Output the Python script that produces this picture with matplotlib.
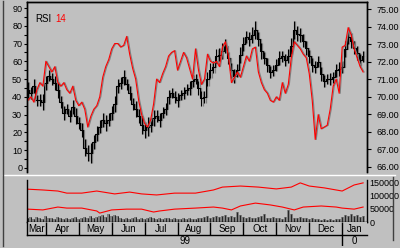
import matplotlib
matplotlib.use('Agg')
import matplotlib.pyplot as plt
from matplotlib.lines import Line2D
from matplotlib.ticker import MultipleLocator, FormatStrFormatter

plt.rcParams['font.family'] = ['Liberation Sans', 'DejaVu Sans']
plt.rcParams['font.size'] = 6.5

bg = '#c0c0c0'
shadow = '#808080'

# RSI 14 (left scale), one value per 3 trading days
rsi = [38, 40, 37, 44, 48, 46, 60, 57, 54, 57,
       48, 46, 48, 44, 42, 46, 38, 35, 37, 33,
       23, 29, 33, 35, 40, 51, 57, 61, 67, 70,
       70, 68, 69, 74, 64, 56, 50, 38, 30, 25,
       23, 27, 36, 50, 48, 53, 57, 63, 65, 66,
       55, 60, 65, 62, 56, 50, 67, 55, 47, 50,
       64, 60, 59, 60, 57, 68, 71, 63, 48, 51,
       54, 51, 57, 63, 60, 67, 68, 54, 48, 44,
       42, 38, 37, 40, 38, 48, 42, 47, 62, 71,
       69, 67, 64, 62, 53, 38, 16, 30, 22, 23,
       24, 33, 46, 50, 42, 68, 69, 79, 75, 67,
       62, 57, 54]

# price (right scale): mid of each bar and its high-low range
price_mid = [70.4, 70.2, 70.6, 69.8, 69.8, 69.7, 70.8, 71.2, 71.0, 70.8,
             70.4, 69.7, 69.1, 69.3, 68.9, 69.4, 68.9, 68.5, 68.1, 67.1,
             66.8, 66.8, 67.4, 67.9, 68.3, 68.7, 68.5, 68.7, 69.1, 69.6,
             70.6, 70.8, 71.1, 70.7, 70.2, 69.6, 69.3, 68.9, 68.4, 68.1,
             68.3, 68.4, 68.8, 68.9, 68.7, 69.1, 69.3, 70.0, 70.2, 70.0,
             69.8, 70.1, 70.2, 70.4, 70.5, 70.9, 71.0, 70.5, 69.9, 70.0,
             71.0, 71.5, 71.7, 72.3, 72.4, 72.6, 72.9, 72.2, 71.5, 71.2,
             71.5, 72.4, 73.0, 73.4, 73.3, 73.5, 73.8, 73.3, 72.6, 72.2,
             71.8, 71.4, 71.5, 71.8, 72.2, 72.3, 72.1, 72.3, 72.9, 73.8,
             73.6, 73.5, 73.2, 72.8, 72.3, 71.8, 71.7, 72.0, 71.3, 70.9,
             71.0, 71.0, 71.1, 71.5, 71.6, 71.7, 72.7, 73.4, 73.2, 72.8,
             72.5, 72.1, 72.3]
price_rng = [0.9, 0.7, 0.8, 0.6, 0.7, 0.9, 0.8, 0.6, 0.7, 0.8,
             0.9, 0.7, 0.8, 0.6, 0.7, 0.8, 0.9, 0.7, 0.8, 1.0,
             0.9, 1.1, 0.8, 0.9, 0.7, 0.8, 0.9, 0.7, 0.8, 0.9,
             0.8, 0.7, 0.9, 0.6, 0.8, 0.7, 0.9, 0.8, 1.0, 0.9,
             1.1, 0.8, 0.9, 0.7, 0.8, 0.6, 0.7, 0.8, 0.6, 0.7,
             0.8, 0.6, 0.7, 0.6, 0.8, 0.7, 0.6, 0.8, 0.9, 0.7,
             0.8, 0.9, 0.7, 0.8, 0.7, 0.9, 0.8, 0.7, 0.9, 0.8,
             0.7, 0.9, 0.8, 0.7, 0.8, 0.9, 1.0, 0.8, 0.9, 0.7,
             0.8, 0.7, 0.6, 0.7, 0.8, 0.6, 0.7, 0.8, 0.9, 1.0,
             0.9, 0.8, 0.7, 0.8, 0.7, 0.8, 0.7, 0.6, 0.8, 0.7,
             0.6, 0.7, 0.6, 0.7, 0.8, 0.7, 0.9, 0.8, 0.9, 0.7,
             0.8, 0.7, 0.6]

# volume in thousands
volume = [14, 18, 12, 20, 16, 13, 22, 15, 17, 12,
          19, 14, 13, 16, 11, 14, 18, 12, 15, 20,
          17, 24, 14, 19, 22, 28, 19, 30, 24, 26,
          21, 15, 12, 16, 13, 14, 18, 12, 15, 13,
          16, 20, 14, 12, 15, 13, 16, 14, 12, 15,
          13, 11, 14, 12, 15, 13, 12, 14, 16, 18,
          22, 17, 20, 24, 18, 21, 25, 19, 23, 20,
          38, 26, 18, 16, 20, 17, 15, 18, 22, 30,
          17, 15, 19, 14, 16, 13, 18, 45, 30, 17,
          15, 18, 14, 16, 13, 15, 12, 11, 9, 10,
          8, 11, 9, 12, 10, 20, 28, 24, 30, 22,
          26, 20, 24]

# volume moving averages (thousands)
slow_days = [0, 5, 10, 13, 18, 23, 29, 34, 38, 43, 49, 56, 62, 65, 71, 77,
             83, 88, 91, 94, 99, 105, 109, 112]
slow_ma = [125, 122, 118, 110, 110, 118, 107, 114, 107, 103, 110, 110, 122,
           133, 137, 133, 126, 133, 149, 137, 130, 118, 141, 149]
fast_days = [0, 5, 10, 13, 18, 23, 24, 28, 33, 38, 42, 44, 49, 56, 62, 65,
             68, 71, 76, 81, 85, 89, 92, 98, 103, 105, 109, 112]
fast_ma = [49, 46, 57, 53, 53, 42, 34, 46, 49, 49, 38, 42, 49, 53, 57, 53,
           46, 61, 72, 65, 57, 46, 57, 61, 57, 53, 49, 57]

months = ['Mar', 'Apr', 'May', 'Jun', 'Jul', 'Aug', 'Sep', 'Oct', 'Nov',
          'Dec', 'Jan']
month_starts = [6, 17, 28, 39, 50, 61, 72, 83, 94, 105]
years = ['99', '0']
year_starts = [105]

W, H = 400, 248
def box(x0, y0, x1, y1):
    return [x0 / W, 1 - y1 / H, (x1 - x0) / W, (y1 - y0) / H]

days = list(range(len(price_mid)))
xlim = (-0.3, 113.3)

fig = plt.figure(figsize=(4, 2.48), dpi=100, facecolor=bg)

# ---- price + RSI panel
ax = fig.add_axes(box(27, 2, 367, 172))
ax.set_facecolor(bg)
ax.set_xlim(*xlim)
ax.set_ylim(65.71, 75.40)
hi = [m + r / 2 for m, r in zip(price_mid, price_rng)]
lo = [m - r / 2 for m, r in zip(price_mid, price_rng)]
sx = [d + 0.35 for d in days]
ax.vlines(sx, lo, hi, color=shadow, lw=0.9)
ax.plot(sx, price_mid, color=shadow, lw=0.9, drawstyle='steps-mid')
ax.vlines(days, lo, hi, color='black', lw=0.8)
ax.plot(days, price_mid, color='black', lw=0.8, drawstyle='steps-mid')
ax.set_xticks([])

ax2 = ax.twinx()
ax2.set_ylim(-2.3, 93.4)
ax2.plot(sx, rsi, color=shadow, lw=0.8)
ax2.plot(days, rsi, color='#ff0000', lw=0.8)

# twinx moves the host ticks left, so set sides afterwards
ax.yaxis.tick_right()
ax.yaxis.set_label_position('right')
ax.yaxis.set_major_locator(MultipleLocator(1))
ax.yaxis.set_major_formatter(FormatStrFormatter('%.2f'))
ax.tick_params(axis='y', length=3, width=0.8, pad=4)
ax2.yaxis.tick_left()
ax2.set_yticks(range(0, 91, 10))
ax2.yaxis.set_minor_locator(MultipleLocator(5))
ax2.tick_params(axis='y', which='both', length=2, width=0.8, pad=1.5)
for a in (ax, ax2):
    a.spines['bottom'].set_visible(False)
    for s in ['left', 'right', 'top']:
        a.spines[s].set_linewidth(1)

ax2.text(0.025, 0.9, 'RSI', transform=ax2.transAxes, fontsize=7,
         color='black', va='center')
ax2.text(0.082, 0.9, '14', transform=ax2.transAxes, fontsize=7,
         color='#ff0000', va='center')

# ---- volume panel
axv = fig.add_axes(box(27, 180, 367, 222))
axv.set_facecolor(bg)
axv.set_xlim(*xlim)
axv.set_ylim(0, 160000)
axv.bar(days, [v * 1000 for v in volume], width=1.0, color=shadow)
axv.vlines(days, 0, [v * 1000 for v in volume], color='black', lw=0.5)
axv.plot(slow_days, [v * 1000 for v in slow_ma], color='#ff0000', lw=0.8)
axv.plot(fast_days, [v * 1000 for v in fast_ma], color='#ff0000', lw=0.8)
axv.yaxis.tick_right()
axv.set_yticks([0, 50000, 100000, 150000])
axv.yaxis.set_major_formatter(FormatStrFormatter('%d'))
axv.tick_params(axis='y', length=0, pad=2)
axv.set_xticks([])
axv.spines['top'].set_visible(False)
for s in ['left', 'right', 'bottom']:
    axv.spines[s].set_linewidth(1)

# ---- month row
axm = fig.add_axes(box(27, 222, 367, 235))
axm.set_facecolor(bg)
axm.set_xlim(*xlim)
axm.set_ylim(0, 1)
axm.vlines(month_starts, 0, 1, color='black', lw=1)
edges = [xlim[0]] + month_starts + [xlim[1]]
for i, m in enumerate(months):
    axm.text((edges[i] + edges[i + 1]) / 2, 0.45, m, ha='center',
             va='center', fontsize=7)
axm.set_xticks([])
axm.set_yticks([])
for s in ['top', 'right']:
    axm.spines[s].set_visible(False)
axm.spines['left'].set_linewidth(1)
axm.spines['bottom'].set_linewidth(1)

# ---- year row
axy = fig.add_axes(box(27, 235, 367, 246))
axy.set_xlim(*xlim)
axy.set_ylim(0, 1)
yedges = [xlim[0]] + year_starts + [xlim[1]]
for i, y in enumerate(years):
    axy.text((yedges[i] + yedges[i + 1]) / 2, 0.5, y, ha='center',
             va='center', fontsize=7)
axy.axis('off')
axy.vlines(year_starts, 0, 1, color='black', lw=1)

# frame lines
fig.add_artist(Line2D([3 / W, 395 / W], [1 - 175 / H, 1 - 175 / H],
                      color='white', lw=1))
fig.add_artist(Line2D([3 / W, 3 / W], [1 - 1 / H, 1 - 246 / H],
                      color='#404040', lw=1))
fig.add_artist(Line2D([393 / W, 393 / W], [1 - 177 / H, 1 - 240 / H],
                      color='#404040', lw=1))

fig.savefig('out.png', dpi=100, facecolor=bg)
